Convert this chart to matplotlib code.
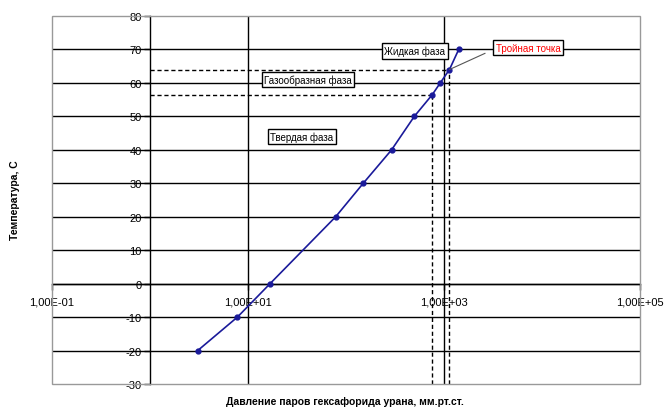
import matplotlib
matplotlib.use("Agg")
import matplotlib.pyplot as plt
from matplotlib.patches import Rectangle

plt.rcParams['font.family'] = ['Liberation Sans', 'DejaVu Sans']

# ---- data ----
temperature_c = [-20, -10, 0, 20, 30, 40, 50, 56.5, 60, 64, 70]
pressure_mmhg = [3.07, 7.8, 16.8, 78.5, 150, 292, 498, 760, 916, 1137, 1413]
sublimation_point = (760, 56.5)
triple_point = (1137, 64)
x_ticks = [1e-1, 1e1, 1e3, 1e5]
x_tick_labels = ["1,00E-01", "1,00E+01", "1,00E+03", "1,00E+05"]
y_ticks = list(range(-30, 81, 10))
phase_labels = ["Жидкая фаза", "Газообразная фаза", "Твердая фаза"]
triple_label = "Тройная точка"
x_label = "Давление паров гексафорида урана, мм.рт.ст."
y_label = "Температура, С"

W, H = 667, 410
fig = plt.figure(figsize=(W / 100, H / 100), dpi=100)

def fx(px):
    return px / W

def fy(py):
    return 1 - py / H

L, R, T, B = 52, 640, 17, 385
ax = fig.add_axes([fx(L), fy(B), fx(R) - fx(L), fy(T) - fy(B)])
ax.set_xscale('log')
ax.set_xlim(1e-1, 1e5)
ax.set_ylim(-30, 80)

# axes crossing at x=1, y=0
ax.spines['left'].set_position(('data', 1))
ax.spines['bottom'].set_position(('data', 0))
ax.spines['left'].set_color('black')
ax.spines['bottom'].set_color('black')
ax.spines['left'].set_linewidth(1.0)
ax.spines['bottom'].set_linewidth(1.0)
ax.spines['right'].set_visible(False)
ax.spines['top'].set_visible(False)
ax.add_patch(Rectangle((0, 0), 1, 1, transform=ax.transAxes, fill=False,
                       edgecolor='#999999', linewidth=1.0, clip_on=False, zorder=5))

ax.set_xticks(x_ticks)
ax.set_xticklabels(x_tick_labels)
ax.xaxis.set_minor_locator(matplotlib.ticker.NullLocator())
ax.set_yticks(y_ticks)
ax.set_yticklabels([str(v) for v in y_ticks])
ax.tick_params(axis='both', direction='out', length=4, width=1, labelsize=8,
               colors='black', pad=2)
ax.tick_params(axis='x', pad=5)

# gridlines
for v in y_ticks[1:-1]:
    ax.axhline(v, color='black', linewidth=1.0, zorder=1)
for v in [1e1, 1e3]:
    ax.axvline(v, color='black', linewidth=1.0, zorder=1)

# dashed guides
for px, ty in [sublimation_point, triple_point]:
    ax.plot([1, px], [ty, ty], color='black', linestyle=(0, (3, 2)), linewidth=1.0, zorder=2)
    ax.plot([px, px], [-30, ty], color='black', linestyle=(0, (3, 2)), linewidth=1.0, zorder=2)

# data
ax.plot(pressure_mmhg, temperature_c, color='#1a1a9a', linewidth=1.2, marker='o',
        markersize=3.5, zorder=4)

# phase boxes
box = dict(boxstyle='square,pad=0.25', facecolor='white', edgecolor='black', linewidth=1.0)
fig.text(fx(415), fy(52), phase_labels[0], fontsize=7, ha='center', va='center', bbox=box, zorder=6)
fig.text(fx(308), fy(80.5), phase_labels[1], fontsize=7, ha='center', va='center', bbox=box, zorder=6)
fig.text(fx(302), fy(137.5), phase_labels[2], fontsize=7, ha='center', va='center', bbox=box, zorder=6)

# triple point callout
ax.annotate(triple_label, xy=triple_point, xycoords='data',
            xytext=(fx(528), fy(48.5)), textcoords='figure fraction',
            fontsize=7, color='red', ha='center', va='center',
            bbox=box,
            arrowprops=dict(arrowstyle='-', color='#555555', linewidth=0.8,
                            relpos=(0, 0.4), shrinkA=6, shrinkB=0),
            zorder=6)

fig.text(fx(345), fy(402), x_label, fontsize=7.5, fontweight='bold', ha='center', va='center')
fig.text(fx(15), fy(200), y_label, fontsize=7.5, fontweight='bold', ha='center', va='center',
         rotation=90)

fig.savefig('out.png', dpi=100)
